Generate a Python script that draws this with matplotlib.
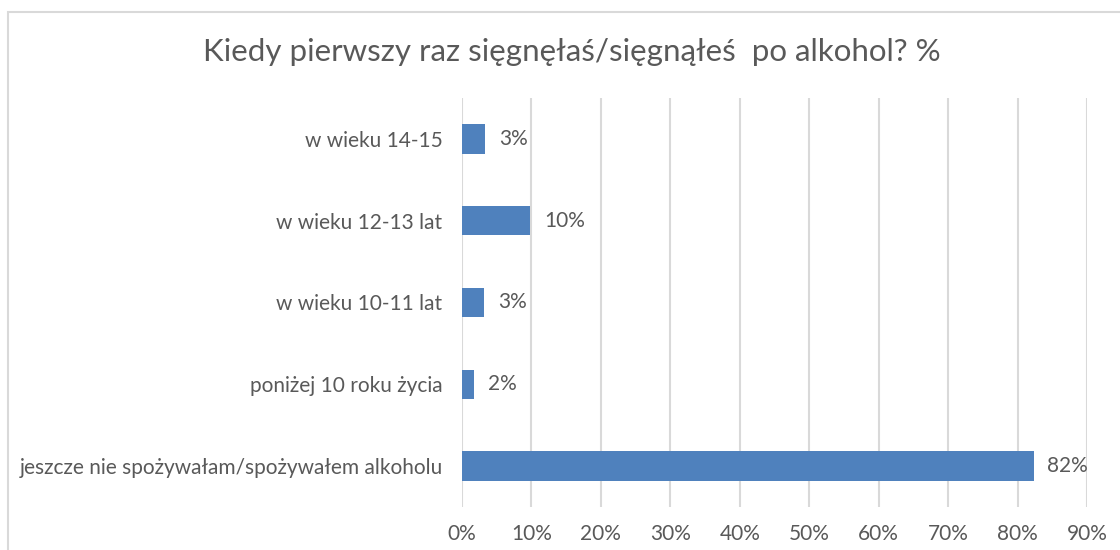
import matplotlib.pyplot as plt
from matplotlib.patches import Rectangle

plt.rcParams["font.family"] = ["Lato", "DejaVu Sans"]

# data (bottom to top as drawn)
categories = [
    "jeszcze nie spożywałam/spożywałem alkoholu",
    "poniżej 10 roku życia",
    "w wieku 10-11 lat",
    "w wieku 12-13 lat",
    "w wieku 14-15",
]
values = [82.3, 1.7, 3.2, 9.8, 3.3]
value_labels = ["82%", "2%", "3%", "10%", "3%"]
xticks = list(range(0, 100, 10))

TEXT = "#595959"
BAR = "#4F81BD"
GRID = "#D9D9D9"

fig = plt.figure(figsize=(11.2, 5.5), dpi=100)
ax = fig.add_axes([462 / 1120, 1 - 507 / 550, (1087 - 462) / 1120, (507 - 98) / 550])

y = list(range(len(categories)))
ax.barh(y, values, height=0.36, color=BAR, zorder=3)
for yi, v, lab in zip(y, values, value_labels):
    ax.text(v + 2.0, yi, lab, va="center", ha="left", fontsize=15, color=TEXT)

ax.set_xlim(0, 90)
ax.set_ylim(-0.5, len(categories) - 0.5)
ax.set_xticks(xticks)
ax.set_xticklabels([f"{t}%" for t in xticks], fontsize=15, color=TEXT)
ax.set_yticks(y)
ax.set_yticklabels(categories, fontsize=15, color=TEXT)
ax.tick_params(length=0, pad=14, axis="y")
ax.tick_params(length=0, pad=12, axis="x")
ax.grid(axis="x", color=GRID, linewidth=1.5, zorder=0)
for s in ax.spines.values():
    s.set_visible(False)

fig.text(572 / 1120, 1 - 52 / 550, "Kiedy pierwszy raz sięgnęłaś/sięgnąłeś  po alkohol? %",
         ha="center", va="center", fontsize=22.5, color=TEXT)

# chart border (partially cropped in the reference)
fig.patches.append(Rectangle((8 / 1120, -0.1), 1.2, 1 - 12 / 550 + 0.1, transform=fig.transFigure,
                             fill=False, edgecolor=GRID, linewidth=1.5))

fig.savefig("out.png", dpi=100)
